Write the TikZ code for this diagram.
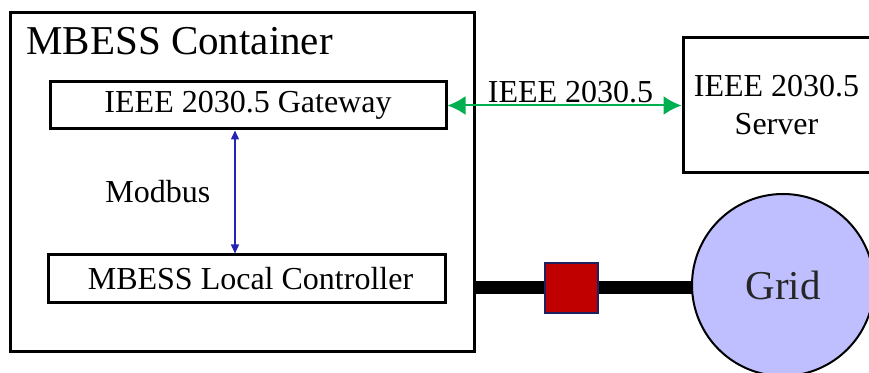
\documentclass[tikz,border=0pt]{standalone}
\usepackage{fontspec}
\setmainfont{Liberation Serif}
\usetikzlibrary{positioning, arrows.meta, backgrounds, calc}
\definecolor{linkG}{RGB}{0,176,80}
\definecolor{linkB}{RGB}{35,35,180}
\definecolor{gridF}{RGB}{191,191,255}
\definecolor{brkF}{RGB}{192,0,0}
\definecolor{brkD}{RGB}{32,32,96}
\tikzset{
  box/.style      ={draw=black, line width=1.5pt, fill=white, inner sep=0pt,
                    align=center, font=\fontsize{16}{19}\selectfont},
  shell/.style    ={draw=black, line width=1.5pt, inner sep=0pt},
  title/.style    ={font=\fontsize{20.5}{24}\selectfont, inner sep=0pt},
  proto/.style    ={<->, >={Latex[length=9pt, width=9.5pt]}, linkG, line width=1pt},
  modlink/.style  ={<->, >={Triangle[length=4.5pt, width=4pt]}, linkB, line width=0.7pt},
  bus/.style      ={-, black, line width=6.5pt},
  breaker/.style  ={draw=brkD, fill=brkF, line width=0.6pt, minimum width=26.5pt,
                    minimum height=25pt, inner sep=0pt},
  gridnode/.style ={circle, draw=black, fill=gridF, line width=1pt, minimum size=91pt,
                    inner sep=0pt, font=\fontsize{20.5}{24}\selectfont, text=black!85},
  lbl/.style      ={font=\fontsize{16}{19}\selectfont, inner sep=1pt, text=black},
}

\begin{document}
\begin{tikzpicture}[x=0.5pt, y=-0.5pt]
\useasboundingbox (0,0) rectangle (869,373);

% --- container and its two boxes ---
\node[shell, minimum width=232pt, minimum height=169.5pt] (cont) at (242, 182.5) {};
\node[title, anchor=base west] (ttl) at (26, 55) {MBESS Container};

\node[box, minimum width=198pt, minimum height=23.5pt] (gw) at (248, 105.5)
     {IEEE 2030.5 Gateway};
\node[box, minimum width=198.5pt, minimum height=24pt] (ctl) at (246.5, 279)
     {\hspace{4pt}MBESS Local Controller};

% --- server ---
\node[box, minimum width=93.5pt, minimum height=67.5pt] (srv) at (776.5, 105.5)
     {IEEE 2030.5\\Server};

% --- breaker and grid ---
\node[breaker] (brk) at (571.5, 288) {};
\node[gridnode] (grid) at (783, 285) {Grid};

% --- links ---
\draw[proto] (gw.east) -- (srv.west)
     node[lbl, midway, above, xshift=3pt] {IEEE 2030.5};
\draw[modlink] ([xshift=-6.5pt]gw.south) -- ([xshift=-6.5pt]gw.south |- ctl.north)
     node[lbl, midway, left=11pt] {Modbus};

\begin{scope}[on background layer]
  \draw[bus] (cont.east |- brk) -- (grid.center |- brk);
\end{scope}

\end{tikzpicture}
\end{document}
